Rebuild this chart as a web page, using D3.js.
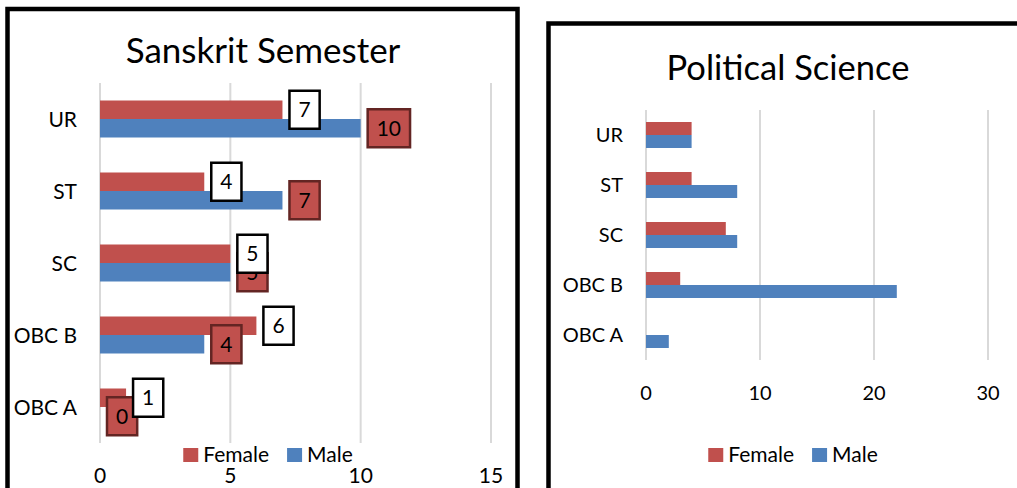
<!DOCTYPE html>
<html>
<head>
<meta charset="utf-8">
<script src="https://cdn.jsdelivr.net/npm/d3@7/dist/d3.min.js"></script>
<style>
  body { margin: 0; background: #fff; }
  svg { display: block; font-family: Lato, "Open Sans", sans-serif; }
</style>
</head>
<body>
<svg id="chart" width="1017" height="488"></svg>
<script>
var categories = ["UR", "ST", "SC", "OBC B", "OBC A"];
var seriesNames = ["Female", "Male"];

var sanskritFemale = [7, 4, 5, 6, 1];
var sanskritMale = [10, 7, 5, 4, 0];
var sanskritTicks = [0, 5, 10, 15];

var polsciFemale = [4, 4, 7, 3, 0];
var polsciMale = [4, 8, 8, 22, 2];
var polsciTicks = [0, 10, 20, 30];

var colours = { Female: "#c0504d", Male: "#4f81bd" };

var svg = d3.select("#chart");

var drawChart = function(cfg) {
    var g = svg.append("g");

    // frame
    g.append("rect")
        .attr("x", cfg.frame[0]).attr("y", cfg.frame[1])
        .attr("width", cfg.frame[2]).attr("height", cfg.frame[3])
        .attr("fill", "#fff").attr("stroke", "#000").attr("stroke-width", 4.5);

    g.append("text")
        .attr("x", cfg.titleX).attr("y", cfg.titleY)
        .attr("text-anchor", "middle")
        .attr("font-size", cfg.titleSize)
        .text(cfg.title);

    var x = d3.scaleLinear().domain(cfg.domain).range(cfg.xRange);
    var y = d3.scaleBand().domain(categories).range(cfg.yRange);
    var y1 = d3.scaleBand().domain(seriesNames).range([0, y.bandwidth()])
        .paddingOuter(cfg.outerPad);

    // gridlines
    g.selectAll(".grid")
        .data(cfg.ticks)
      .enter()
        .append("line")
        .attr("class", "grid")
        .attr("x1", function(d) { return x(d); })
        .attr("x2", function(d) { return x(d); })
        .attr("y1", cfg.yRange[0])
        .attr("y2", cfg.yRange[1])
        .attr("stroke", "#d9d9d9")
        .attr("stroke-width", 2);

    // tick labels
    g.selectAll(".tick-label")
        .data(cfg.ticks)
      .enter()
        .append("text")
        .attr("class", "tick-label")
        .attr("x", function(d) { return x(d); })
        .attr("y", cfg.tickY)
        .attr("text-anchor", "middle")
        .attr("font-size", cfg.tickSize)
        .text(function(d) { return d; });

    // category labels
    g.selectAll(".cat")
        .data(categories)
      .enter()
        .append("text")
        .attr("class", "cat")
        .attr("x", cfg.catX)
        .attr("y", function(d) { return y(d) + y.bandwidth() / 2; })
        .attr("dy", "0.36em")
        .attr("text-anchor", "end")
        .attr("font-size", cfg.catSize)
        .text(function(d) { return d; });

    var rows = categories.map(function(c, i) {
        return [
            { cat: c, series: "Female", value: cfg.female[i] },
            { cat: c, series: "Male", value: cfg.male[i] }
        ];
    });
    var flat = d3.merge(rows);

    g.selectAll(".bar")
        .data(flat.filter(function(d) { return d.value > 0; }))
      .enter()
        .append("rect")
        .attr("class", "bar")
        .attr("x", x(0))
        .attr("y", function(d) { return y(d.cat) + y1(d.series); })
        .attr("width", function(d) { return x(d.value) - x(0); })
        .attr("height", y1.bandwidth())
        .attr("fill", function(d) { return colours[d.series]; });

    if (cfg.labels) {
        // male labels first so female boxes sit on top
        ["Male", "Female"].forEach(function(s) {
            var lab = g.selectAll(".lab-" + s)
                .data(flat.filter(function(d) { return d.series === s; }))
              .enter()
                .append("g")
                .attr("class", "lab-" + s);
            var box = lab.append("rect");
            var txt = lab.append("text")
                .attr("font-size", cfg.catSize)
                .attr("text-anchor", "middle")
                .attr("dy", "0.36em")
                .text(function(d) { return d.value; });
            txt.each(function(d) {
                var w = this.getComputedTextLength() + 18;
                var x0 = x(d.value) + 7;
                var cy = y(d.cat) + y1(d.series) + y1.bandwidth() / 2;
                d3.select(this).attr("x", x0 + w / 2).attr("y", cy);
                d3.select(this.parentNode).select("rect")
                    .attr("x", x0).attr("y", cy - 19)
                    .attr("width", w).attr("height", 38)
                    .attr("fill", s === "Male" ? "#c0504d" : "#fff")
                    .attr("stroke", s === "Male" ? "#632523" : "#000")
                    .attr("stroke-width", 2.5);
            });
        });
    }

    // legend, centred on cfg.legendX
    var leg = g.append("g");
    var items = leg.selectAll(".leg")
        .data(seriesNames)
      .enter()
        .append("g")
        .attr("class", "leg");
    items.append("rect")
        .attr("width", 15).attr("height", 14)
        .attr("y", -14)
        .attr("fill", function(d) { return colours[d]; });
    items.append("text")
        .attr("x", 20)
        .attr("font-size", cfg.legendSize)
        .text(function(d) { return d; });
    var widths = [];
    items.each(function() {
        var w = 20 + d3.select(this).select("text").node().getComputedTextLength();
        widths.push(w);
    });
    var total = d3.sum(widths) + 18 * (widths.length - 1);
    var offset = cfg.legendX - total / 2;
    items.attr("transform", function(d, i) {
        var tx = offset;
        offset += widths[i] + 18;
        return "translate(" + tx + "," + cfg.legendY + ")";
    });
};

drawChart({
    title: "Sanskrit Semester",
    frame: [7.5, 9, 510, 500],
    titleX: 263, titleY: 63, titleSize: 35,
    domain: [0, 15], xRange: [100, 491],
    yRange: [83, 443], outerPad: 0.946,
    ticks: sanskritTicks, tickY: 483, tickSize: 21,
    catX: 77, catSize: 21, legendSize: 21,
    female: sanskritFemale, male: sanskritMale,
    labels: true,
    legendX: 268, legendY: 462
});

drawChart({
    title: "Political Science",
    frame: [548.5, 23.5, 520, 500],
    titleX: 788, titleY: 80, titleSize: 34.5,
    domain: [0, 30], xRange: [646, 988],
    yRange: [110, 360], outerPad: 0.923,
    ticks: polsciTicks, tickY: 400, tickSize: 20,
    catX: 623, catSize: 20, legendSize: 21,
    female: polsciFemale, male: polsciMale,
    labels: false,
    legendX: 793, legendY: 462
});
</script>
</body>
</html>
